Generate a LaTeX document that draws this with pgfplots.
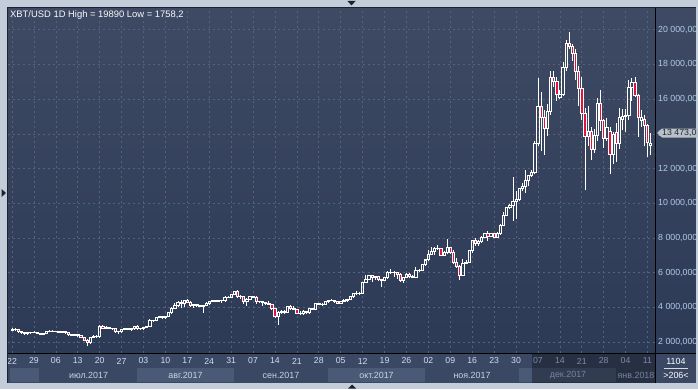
\documentclass[border=0pt]{standalone}
\usepackage{pgfplots}
\pgfplotsset{compat=1.18}
\usepackage{pgfplotstable}
\usepackage{fontspec}
\setmainfont{Liberation Sans}
\definecolor{frame}{HTML}{C2CDD9}
\definecolor{bgtop}{HTML}{3E4A63}
\definecolor{bgbot}{HTML}{2D3A56}
\definecolor{gridc}{HTML}{56627C}
\definecolor{candred}{HTML}{E3143C}
\definecolor{ylab}{HTML}{B2CBEA}
\definecolor{xlab}{HTML}{D2DCEA}
\definecolor{xdim}{HTML}{7D8BA4}
\definecolor{strip}{HTML}{3A4864}
\definecolor{block}{HTML}{4A5976}
\definecolor{monthc}{HTML}{C9D3E3}
\definecolor{monthdim}{HTML}{76849C}
\definecolor{darkline}{HTML}{1B2233}

\pgfplotstableread{
d o h l c
0 2700 2780 2650 2740
1 2740 2790 2690 2720
2 2720 2730 2560 2600
3 2600 2650 2480 2560
4 2560 2600 2420 2480
5 2480 2560 2380 2540
6 2540 2600 2480 2580
7 2580 2620 2520 2560
8 2560 2570 2460 2500
9 2500 2520 2420 2440
10 2440 2540 2400 2520
11 2520 2640 2500 2620
12 2620 2680 2590 2640
13 2640 2670 2590 2630
14 2630 2660 2590 2640
15 2640 2650 2530 2570
16 2570 2650 2560 2620
17 2620 2640 2520 2540
18 2540 2570 2380 2420
19 2420 2450 2340 2380
20 2380 2460 2330 2440
21 2440 2450 2340 2370
22 2370 2380 2240 2280
23 2280 2290 2080 2100
24 2100 2150 1758 1960
25 1960 2300 1950 2260
26 2260 2420 2240 2330
27 2330 2400 2260 2300
28 2300 2980 2280 2920
29 2920 3000 2760 2800
30 2800 2900 2780 2860
31 2860 2890 2760 2800
32 2800 2830 2720 2780
33 2780 2790 2540 2620
34 2620 2660 2480 2600
35 2600 2760 2580 2740
36 2740 2800 2700 2780
37 2780 2790 2680 2740
38 2740 2780 2660 2760
39 2760 2950 2740 2920
40 2920 2960 2720 2780
41 2780 2820 2700 2760
42 2760 2880 2740 2860
43 2860 2950 2830 2920
44 2920 3300 2900 3260
45 3260 3290 3180 3240
46 3240 3440 3200 3420
47 3420 3500 3380 3450
48 3450 3480 3350 3400
49 3400 3500 3390 3480
50 3480 3750 3470 3700
51 3700 4000 3690 3950
52 3950 4250 3920 4100
53 4100 4340 4050 4300
54 4300 4420 3980 4200
55 4200 4400 4000 4380
56 4380 4480 4250 4300
57 4300 4350 4000 4120
58 4120 4200 3980 4160
59 4160 4200 4080 4100
60 4100 4130 4020 4060
61 4060 4150 3650 4120
62 4120 4280 4100 4200
63 4200 4360 4180 4340
64 4340 4420 4320 4380
65 4380 4390 4300 4360
66 4360 4420 4330 4380
67 4380 4400 4260 4390
68 4390 4650 4380 4600
69 4600 4650 4520 4590
70 4590 4760 4580 4750
71 4750 4950 4720 4920
72 4920 4970 4560 4620
73 4620 4720 4500 4640
74 4640 4650 4200 4320
75 4320 4520 4100 4460
76 4460 4680 4450 4640
77 4640 4660 4520 4600
78 4600 4650 4200 4320
79 4320 4380 4250 4350
80 4350 4360 4050 4280
81 4280 4300 4150 4200
82 4200 4380 4160 4180
83 4180 4200 3850 3920
84 3920 3950 3450 3460
85 3460 3800 2980 3700
86 3700 3850 3600 3780
87 3780 3820 3600 3720
88 3720 4100 3700 4050
89 4050 4120 3880 3920
90 3920 4050 3880 3900
91 3900 3920 3620 3660
92 3660 3760 3560 3640
93 3640 3820 3620 3790
94 3790 3800 3650 3700
95 3700 3960 3690 3930
96 3930 3980 3870 3890
97 3890 4220 3880 4200
98 4200 4270 4140 4190
99 4190 4230 4050 4170
100 4170 4370 4160 4350
101 4350 4410 4260 4400
102 4400 4470 4380 4420
103 4420 4440 4270 4320
104 4320 4360 4200 4240
105 4240 4380 4200 4340
106 4340 4450 4330 4380
107 4380 4480 4350 4450
108 4450 4640 4440 4620
109 4620 4800 4580 4780
110 4780 4920 4730 4790
111 4790 4900 4750 4830
112 4830 5460 4820 5440
113 5440 5860 5400 5640
114 5640 5840 5560 5820
115 5820 5850 5460 5700
116 5700 5790 5580 5760
117 5760 5780 5550 5600
118 5600 5620 5150 5580
119 5580 5730 5560 5710
120 5710 6080 5620 6000
121 6000 6190 5900 6030
122 6030 6080 5720 5990
123 5990 6050 5660 5910
124 5910 5950 5450 5530
125 5530 5740 5420 5740
126 5740 5980 5710 5890
127 5890 5990 5700 5780
128 5780 5860 5690 5750
129 5750 6310 5740 6150
130 6150 6200 6040 6130
131 6130 6480 6120 6450
132 6450 6750 6400 6740
133 6740 7330 6720 7060
134 7060 7480 7010 7200
135 7200 7500 7020 7400
136 7400 7580 7330 7380
137 7380 7420 6960 7020
138 7020 7220 6990 7140
139 7140 7940 7100 7460
140 7460 7470 7060 7160
141 7160 7320 6520 6600
142 6600 6860 6260 6350
143 6350 6450 5570 5870
144 5870 6760 5820 6540
145 6540 6700 6470 6610
146 6610 7330 6600 7290
147 7290 7900 7150 7850
148 7850 8000 7520 7700
149 7700 7870 7560 7800
150 7800 8110 7710 8040
151 8040 8300 7990 8250
152 8250 8380 7820 8100
153 8100 8310 8090 8240
154 8240 8310 8050 8060
155 8060 8360 7980 8240
156 8240 8780 8180 8740
157 8740 9500 8730 9320
158 9320 9800 9320 9740
159 9740 9960 9660 9900
160 9900 11500 9000 10100
161 10100 10700 9100 10250
162 10250 10900 10150 10850
163 10850 11150 10700 10950
164 10950 11900 10600 11300
165 11300 11650 11000 11600
166 11600 11900 11500 11750
167 11750 13600 11700 13450
168 13450 17200 13300 15600
169 15600 16400 13000 14950
170 14950 15400 12800 14300
171 14300 15700 13900 15300
172 15300 17600 15100 17250
173 17250 17600 16700 17050
174 17050 17250 15900 16250
175 16100 16500 16000 16250
176 16250 18150 16200 17850
177 17850 19400 17600 19230
178 19230 19890 18900 19020
179 19020 19200 18200 18640
180 18640 18900 17100 17580
181 17580 17900 15600 16620
182 16620 17300 14800 15180
183 15180 15500 10760 13830
184 13830 15600 13300 14150
185 14150 14400 12500 13100
186 13100 14300 12900 13900
187 13900 16060 13600 15780
188 15780 16550 14150 14800
189 14800 14850 13180 13760
190 13760 14900 13600 14400
191 14150 14400 11700 12800
192 12800 14100 12250 13960
193 14100 14600 12350 13450
194 13450 15490 13100 14950
195 14850 15450 14200 15000
196 15000 15450 14100 15050
197 15050 17100 14800 16700
198 16700 17200 15900 16950
199 16950 17270 16100 16200
200 16200 16300 13800 14950
201 14800 15350 14400 14970
202 14850 15100 13300 14500
203 14500 14550 12660 13530
204 13330 14040 12780 13473
}\data

\pgfplotsset{
  chartgeom/.style={
    at={(8pt,36pt)}, anchor=south west, scale only axis,
    width=647pt, height=345pt,
    xmin=-1.28, xmax=205.4, ymin=1366, ymax=21252,
  }
}

\begin{document}
\begin{tikzpicture}[x=1pt,y=1pt]
\useasboundingbox (0,0) rectangle (698,389);
\fill[frame] (0,0) rectangle (698,389);
\shade[top color=bgtop, bottom color=bgbot] (8,36) rectangle (696,381);
\fill[strip] (8,6) rectangle (696,36);
% month blocks (second row)
\fill[block] (10,7) rectangle (39,21);
\fill[block] (137,7) rectangle (234,21);
\fill[block] (328,7) rectangle (425,21);
\fill[block] (519,7) rectangle (616,21);
\fill[black, opacity=0.32] (532,6) rectangle (655,35.5);

\begin{axis}[chartgeom,
  axis line style={draw=none},
  major tick length=0pt,
  xtick={0,7,...,203},
  xticklabels={22,29,06,13,20,27,03,10,17,24,31,07,14,21,28,05,12,19,26,02,09,16,23,30,
    \textcolor{xdim}{07},\textcolor{xdim}{14},\textcolor{xdim}{21},\textcolor{xdim}{28},\textcolor{xdim}{04},\textcolor{xdim}{11}},
  xticklabel style={font=\fontsize{8.7}{10}\selectfont, text=xlab, anchor=center, yshift=-8pt},
  ytick={2000,4000,...,20000},
  yticklabels={{2 000,000},{4 000,000},{6 000,000},{8 000,000},{10 000,000},{12 000,000},{14 000,000},{16 000,000},{18 000,000},{20 000,000}},
  yticklabel pos=right,
  yticklabel style={font=\fontsize{8.8}{10}\selectfont, text=ylab, anchor=west, inner sep=0pt, xshift=3pt},
  grid=major,
  major grid style={dash pattern=on 2pt off 3pt, gridc, line width=0.6pt},
]
\addplot[draw=none, mark=none, forget plot,
  error bars/.cd, y dir=plus, y explicit, error mark=none,
  error bar style={draw=white, line width=0.75pt}]
  table[x=d, y expr={max(\thisrow{o},\thisrow{c})},
        y error plus expr={\thisrow{h}-max(\thisrow{o},\thisrow{c})}] {\data};
\addplot[draw=none, mark=none, forget plot,
  error bars/.cd, y dir=minus, y explicit, error mark=none,
  error bar style={draw=white, line width=0.75pt}]
  table[x=d, y expr={min(\thisrow{o},\thisrow{c})},
        y error minus expr={min(\thisrow{o},\thisrow{c})-\thisrow{l}}] {\data};
\end{axis}

\begin{axis}[chartgeom, hide axis, ybar stacked, bar width=2.3pt]
\addplot[draw=none, fill=none] table[x=d, y expr={min(\thisrow{o},\thisrow{c})}] {\data};
\addplot[draw=white, fill=none, line width=0.7pt] table[x=d, y expr={max(\thisrow{c}-\thisrow{o},0)}] {\data};
\addplot[draw=white, fill=candred, line width=0.7pt] table[x=d, y expr={max(\thisrow{o}-\thisrow{c},0)}] {\data};
\end{axis}

% frame lines
\draw[darkline, line width=1pt] (7.5,6) -- (7.5,381.5) -- (696,381.5);
\draw[black, line width=1pt] (8,36) -- (696,36);
\draw[black, line width=1pt] (655,6) -- (655,381);
% right and bottom grey edges
\fill[frame] (696,0) rectangle (698,389);
\fill[frame] (0,0) rectangle (698,6);
% title
\node[anchor=west, inner sep=0pt, text=white!90!ylab, font=\fontsize{9.4}{11}\selectfont] at (10,374) {XBT/USD 1D High = 19890 Low = 1758,2};
% month labels
\begin{scope}[every node/.style={inner sep=0pt, font=\fontsize{8.9}{10}\selectfont}]
\node[text=monthc] at (88.5,14) {июл.2017};
\node[text=monthc] at (185.5,14) {авг.2017};
\node[text=monthc] at (281,14) {сен.2017};
\node[text=monthc] at (376.5,14) {окт.2017};
\node[text=monthc] at (472,14) {ноя.2017};
\node[text=monthdim] at (568,14) {дек.2017};
\node[text=monthdim] at (636,14) {янв.2018};
\node[text=white] at (676,28) {1104};
\node[text=white] at (676,14) {>206<};
\end{scope}
\draw[white!80!strip, line width=0.6pt] (664,20.5) -- (688,20.5);
% price marker
\fill[frame!85!gray] (657,256) -- (662,260.5) -- (698,260.5) -- (698,251.5) -- (662,251.5) -- cycle;
\node[anchor=west, inner sep=0pt, text=black!85, font=\fontsize{8.8}{10}\selectfont] at (662,256) {13 473,0};
% navigation triangles
\fill[darkline] (347.5,388) -- (355.5,388) -- (351.5,383.5) -- cycle;
\fill[darkline] (1.5,200) -- (1.5,192) -- (6,196) -- cycle;
\fill[darkline] (348,0.5) -- (356,0.5) -- (352,4.5) -- cycle;
\end{tikzpicture}
\end{document}
